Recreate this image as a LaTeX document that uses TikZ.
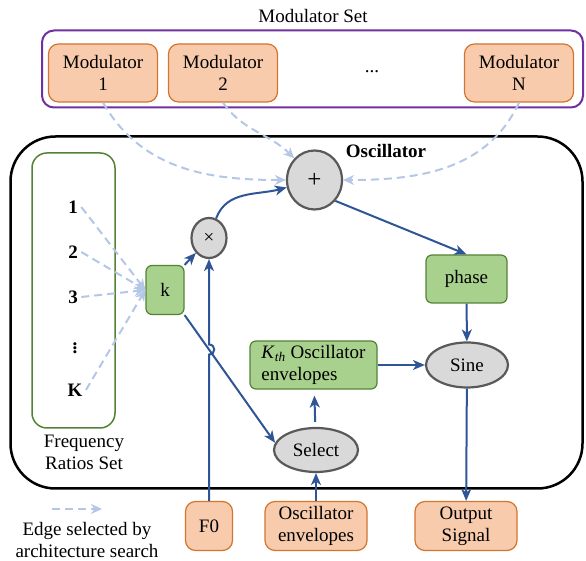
\documentclass[tikz,border=0pt]{standalone}
\usepackage{fontspec}
\setmainfont{Liberation Serif}
\usetikzlibrary{arrows.meta,shapes.geometric}
\definecolor{modfill}{HTML}{F8CBAD}
\definecolor{moddraw}{HTML}{D2752F}
\definecolor{envfill}{HTML}{A9D18E}
\definecolor{envdraw}{HTML}{548235}
\definecolor{setdraw}{HTML}{7030A0}
\definecolor{opfill}{HTML}{D9D9D9}
\definecolor{opdraw}{HTML}{595959}
\definecolor{flowblue}{HTML}{2F5597}
\definecolor{searchblue}{HTML}{B4C7E7}
\begin{document}
\begin{tikzpicture}
[x=1pt,y=1pt,font=\fontsize{19}{22}\selectfont,
  modbox/.style={shape=rectangle,rounded corners=10pt,draw=moddraw,fill=modfill,line width=1.2pt,align=center,minimum height=49pt},%
  envbox/.style={shape=rectangle,rounded corners=6pt,draw=envdraw,fill=envfill,line width=1.2pt,align=center,minimum height=48pt},%
  opnode/.style={shape=ellipse,draw=opdraw,fill=opfill,line width=2.2pt,inner sep=0pt},%
  ratio/.style={font=\fontsize{19}{22}\selectfont\bfseries},%
  flow/.style={-{Stealth[length=12pt,width=10pt,inset=3.5pt]},draw=flowblue,line width=2pt},%
  search/.style={-{Stealth[length=11pt,width=10pt,inset=3.5pt]},draw=searchblue,line width=2pt,dash pattern=on 8pt off 5pt}]
\useasboundingbox (0,0) rectangle (586,561);
%%% frames
\node (osc) at (296.5,248.5) [draw,line width=2.5pt,rounded corners=45pt,minimum width=572pt,minimum height=352pt] {};
\node (osctitle) at (386,410) {\bfseries Oscillator};
\node (modset) at (312.5,492) [draw=setdraw,line width=2pt,rounded corners=12pt,minimum width=541pt,minimum height=77pt] {};
\node (modsettitle) at (313,545) {Modulator Set};
\node (freq) at (73.5,270.5) [draw=envdraw,line width=1.5pt,rounded corners=15pt,minimum width=83pt,minimum height=275pt] {};
\node (freqtitle) at (84,109) [align=center] {Frequency\\Ratios Set};
%%% modulators
% nodes or vertices
\node (mod1) at (103,488) [modbox,minimum width=109pt,minimum height=58pt] {Modulator\\1};
\node (mod2) at (223,488) [modbox,minimum width=109pt,minimum height=58pt] {Modulator\\2};
\node (moddots) at (372,489) {...};
\node (modN) at (519,488) [modbox,minimum width=109pt,minimum height=58pt] {Modulator\\N};
%%% frequency ratios
\node (r1) at (73,354) [ratio] {1};
\node (r2) at (73,309) [ratio] {2};
\node (r3) at (73,264) [ratio] {3};
\node (rdots) at (75,216) [ratio] {$\vdots$};
\node (rK) at (75,171) [ratio] {K};
%%% oscillator
\node (plus) at (314.5,381) [opnode,minimum width=55pt,minimum height=59pt] {\fontsize{25}{25}\selectfont +};
\node (times) at (209,323) [opnode,minimum width=35pt,minimum height=40pt] {×};
\node (k) at (165,271) [envbox,minimum width=38pt,minimum height=49pt] {k};
\node (phase) at (466.5,282) [envbox,minimum width=81pt] {phase};
\node (kth) at (313.5,196) [envbox,minimum width=127pt,align=left] {\textit{K}\textsubscript{\textit{th}} Oscillator\\envelopes};
\node (sine) at (467,196) [opnode,minimum width=82pt,minimum height=45pt] {Sine};
\node (select) at (316,111) [opnode,minimum width=84pt,minimum height=44pt] {Select};
%%% inputs and output
\node (f0) at (209,35) [modbox,minimum width=47pt] {F0};
\node (oscenv) at (316,35) [modbox,minimum width=102pt] {Oscillator\\envelopes};
\node (output) at (466,35) [modbox,minimum width=102pt] {Output\\Signal};
%%% key
\coordinate (keyfrom) at (52,52);
\coordinate (keyto) at (102,52);
\node (keytext) at (87,21) [align=center] {Edge selected by\\architecture search};
% edges or lines
\path
(mod1.south) edge[search,out=-60,in=180] (plus.west)
(mod2.south) edge[search,out=-55,in=135] (plus.north west)
(modN.south) edge[search,out=-115,in=0] (plus.east)
(r1.east) edge[search] (k.west)
(r2.east) edge[search] (k.west)
(r3.east) edge[search] (k.west)
(rK.east) edge[search] (k.west)
(keyfrom) edge[search] (keyto);
\path
(k.north east) edge[flow] (times.south west)
(times) edge[flow,out=70,in=195] (plus)
(plus.-45) edge[flow] (phase.north)
(phase) edge[flow] (sine)
(kth) edge[flow] (sine)
(sine) edge[flow] (output)
(oscenv) edge[flow] (select)
(select) edge[flow,shorten <=5pt,shorten >=6pt] (kth)
(k.south east) edge[flow] (select.170);
% F0 jumps over the k to Select line
\coordinate (hop) at (intersection of k.south east--select.170 and times.south--f0.north);
\draw[flow] (f0.north) -- ([yshift=-5pt]hop) .. controls +(7,0) and +(7,0) .. ([yshift=5pt]hop) -- (times.south);
\end{tikzpicture}
\end{document}
